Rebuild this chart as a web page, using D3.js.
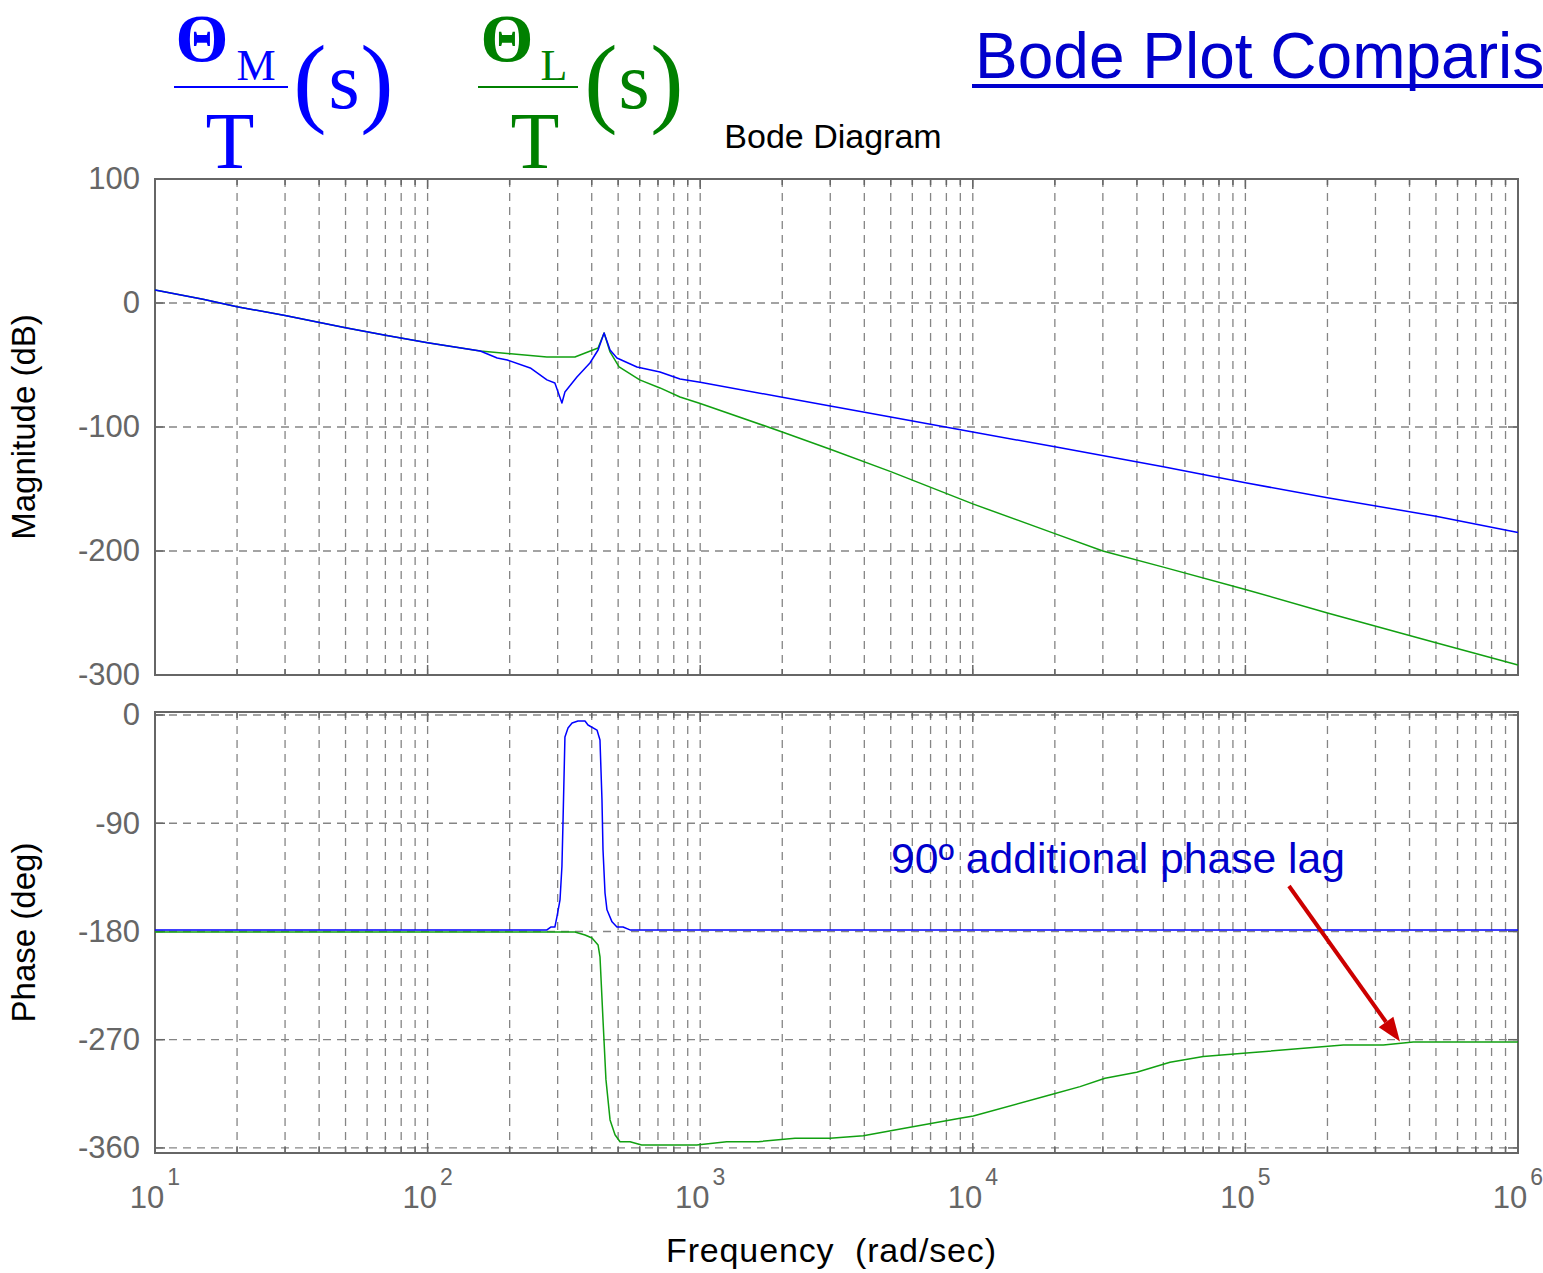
<!DOCTYPE html>
<html>
<head>
<meta charset="utf-8">
<script src="https://cdn.jsdelivr.net/npm/d3@7"></script>
<style>
  body { margin: 0; background: #fff; }
  svg { display: block; }
</style>
</head>
<body>
<svg id="chart" width="1543" height="1273"></svg>
<script>
// ---- data ----
// Theta_M / T  (blue)
const wMagM = [10, 15, 20, 30, 50, 70, 100, 156, 180, 196, 238, 274, 293, 311, 319, 353, 394, 422, 444, 467, 495, 586, 712, 843, 1000, 2000, 3000, 5000, 10000, 20000, 50000, 100000, 200000, 500000, 1000000];
const magM = [10.5, 3, -3, -10, -20, -26, -32, -38.7, -44.4, -46, -52.4, -62, -64.5, -80.6, -71.8, -59.7, -48.4, -37.9, -24.2, -37.9, -44.4, -51.6, -55.6, -61.3, -64, -76, -83, -92, -104, -116, -132, -145, -157, -172, -185];

// Theta_L / T  (green)
const wMagL = [10, 15, 20, 30, 50, 70, 100, 156, 274, 347, 422, 444, 467, 504, 600, 712, 843, 1000, 2000, 3000, 5000, 10000, 20000, 30000, 50000, 100000, 200000, 500000, 1000000];
const magL = [10.5, 3, -3, -10, -20, -26, -32, -38.7, -43.5, -43.5, -36.3, -24.2, -39.5, -51.6, -62, -68.5, -75.8, -81, -104, -118, -136, -162, -186, -200, -213, -231, -250, -274, -292];

const wPhM = [10, 274, 283, 293, 298, 306, 311, 313.8, 319, 327.4, 338.8, 356.2, 377.9, 387.6, 418.2, 428.9, 436.2, 440, 447.5, 455, 474.8, 495, 521, 552.6, 1000000];
const phM = [-178.7, -178.7, -176.3, -176.3, -168, -153.8, -126, -89.8, -18.3, -10.8, -6.7, -5, -5, -8.3, -12.5, -20.8, -70.7, -112, -148, -162, -172, -176.3, -176.3, -178.7, -178.7];

const wPhL = [10, 347, 378, 401, 422, 429, 440, 451, 467, 487, 508, 553, 610, 971, 1251, 1634, 2227, 2992, 3966, 5884, 8975, 10040, 19740, 24740, 30550, 39930, 52900, 70070, 98240, 228600, 320600, 413000, 1000000];
const phL = [-180.5, -180.5, -182.9, -185.4, -191.2, -201.2, -253.6, -303, -336.7, -349, -354.8, -354.8, -357.5, -357.5, -354.8, -354.8, -351.9, -351.9, -349.8, -342.8, -335.3, -333.4, -315.1, -309, -302, -297, -288.7, -284, -281.3, -274.4, -274.4, -271.9, -271.9];

const decadeExps = [1, 2, 3, 4, 5, 6];
const magTicks = [100, 0, -100, -200, -300];
const phaseTicks = [0, -90, -180, -270, -360];

// annotation (frequency, phase)
const noteText = '90º additional phase lag';
const noteAt = [5010, -131.4];
const arrowFrom = [144500, -142.2];
const arrowTo = [369000, -271.5];

// ---- setup ----
const svg = d3.select('#chart');
const sans = '"Liberation Sans", Arial, Helvetica, sans-serif';
const serif = '"Liberation Serif", "Times New Roman", serif';
const blue = '#0000ff';
const green = '#11a011';
const axisGray = '#666666';

svg.append('rect').attr('width', 1543).attr('height', 1273).attr('fill', '#fff');

const x = d3.scaleLog().domain([10, 1e6]).range([155, 1518]);
const yMag = d3.scaleLinear().domain([-300, 100]).range([675, 179]);
const yPh = d3.scaleLinear().domain([-364.2, 2.5]).range([1153, 712]);

const majors = decadeExps.map((e) => Math.pow(10, e));
const gridX = [];
decadeExps.slice(0, -1).forEach((e) => {
  for (let m = 1; m < 10; m++) gridX.push(m * Math.pow(10, e));
});
gridX.push(1e6);

function drawPanel(y, ticks) {
  const [y0, y1] = y.range();
  const top = Math.min(y0, y1);
  const bottom = Math.max(y0, y1);
  const g = svg.append('g');

  // dashed grid
  g.selectAll('line.vg')
    .data(gridX.filter((v) => v > 10 && v < 1e6))
    .enter()
    .append('line')
    .attr('x1', (d) => x(d)).attr('x2', (d) => x(d))
    .attr('y1', top).attr('y2', bottom)
    .attr('stroke', '#858585').attr('stroke-width', 1.3)
    .attr('stroke-dasharray', '8,6');

  g.selectAll('line.hg')
    .data(ticks)
    .enter()
    .append('line')
    .attr('x1', x(10)).attr('x2', x(1e6))
    .attr('y1', (d) => y(d)).attr('y2', (d) => y(d))
    .attr('stroke', '#858585').attr('stroke-width', 1.3)
    .attr('stroke-dasharray', '8,6');

  // inward ticks
  const tickLen = (d) => (majors.includes(d) ? 10 : 6);
  gridX.forEach((d) => {
    g.append('line').attr('x1', x(d)).attr('x2', x(d))
      .attr('y1', bottom).attr('y2', bottom - tickLen(d))
      .attr('stroke', axisGray).attr('stroke-width', 1.5);
    g.append('line').attr('x1', x(d)).attr('x2', x(d))
      .attr('y1', top).attr('y2', top + tickLen(d))
      .attr('stroke', axisGray).attr('stroke-width', 1.5);
  });
  ticks.forEach((d) => {
    g.append('line').attr('x1', x(10)).attr('x2', x(10) + 10)
      .attr('y1', y(d)).attr('y2', y(d))
      .attr('stroke', axisGray).attr('stroke-width', 1.5);
    g.append('line').attr('x1', x(1e6)).attr('x2', x(1e6) - 10)
      .attr('y1', y(d)).attr('y2', y(d))
      .attr('stroke', axisGray).attr('stroke-width', 1.5);
  });

  // box
  g.append('rect')
    .attr('x', x(10)).attr('y', top)
    .attr('width', x(1e6) - x(10)).attr('height', bottom - top)
    .attr('fill', 'none').attr('stroke', axisGray).attr('stroke-width', 2);

  // y tick labels
  const ax = svg.append('g')
    .attr('transform', `translate(${x(10)},0)`)
    .call(d3.axisLeft(y).tickValues(ticks).tickSize(0).tickPadding(15).tickFormat(d3.format('d')));
  ax.select('.domain').remove();
  ax.selectAll('text')
    .attr('font-family', sans).attr('font-size', 31).attr('fill', axisGray)
    .text((d) => (d < 0 ? '-' + Math.abs(d) : d));
  return g;
}

drawPanel(yMag, magTicks);
drawPanel(yPh, phaseTicks);

// x tick labels 10^n
const xl = svg.append('g').attr('transform', 'translate(0,1208)');
decadeExps.forEach((e) => {
  const t = xl.append('text')
    .attr('x', x(Math.pow(10, e)))
    .attr('text-anchor', 'middle')
    .attr('font-family', sans).attr('font-size', 31).attr('fill', axisGray);
  t.append('tspan').text('10');
  t.append('tspan').attr('dy', -23).attr('dx', 3).attr('font-size', 23).text(e);
});

// curves
function curve(ws, vs, y, color) {
  const pts = ws.map((w, i) => [w, vs[i]]);
  svg.append('path')
    .datum(pts)
    .attr('fill', 'none')
    .attr('stroke', color)
    .attr('stroke-width', 1.5)
    .attr('stroke-linejoin', 'round')
    .attr('d', d3.line().x((d) => x(d[0])).y((d) => y(d[1])));
}
curve(wMagL, magL, yMag, green);
curve(wMagM, magM, yMag, blue);
curve(wPhL, phL, yPh, green);
curve(wPhM, phM, yPh, blue);

// axis labels and titles
svg.append('text')
  .attr('x', 833).attr('y', 148)
  .attr('text-anchor', 'middle')
  .attr('font-family', sans).attr('font-size', 34).attr('fill', '#000')
  .text('Bode Diagram');

svg.append('text')
  .attr('x', 831).attr('y', 1262)
  .attr('text-anchor', 'middle')
  .attr('font-family', sans).attr('font-size', 34).attr('fill', '#000')
  .attr('xml:space', 'preserve')
  .attr('textLength', 330).attr('lengthAdjust', 'spacing')
  .text('Frequency  (rad/sec)');

svg.append('text')
  .attr('transform', `translate(35,${(179 + 675) / 2}) rotate(-90)`)
  .attr('text-anchor', 'middle')
  .attr('font-family', sans).attr('font-size', 33).attr('fill', '#000')
  .text('Magnitude (dB)');

svg.append('text')
  .attr('transform', `translate(35,${(712 + 1153) / 2}) rotate(-90)`)
  .attr('text-anchor', 'middle')
  .attr('font-family', sans).attr('font-size', 33).attr('fill', '#000')
  .text('Phase (deg)');

// big title, cut at the right edge like the slide
svg.append('text')
  .attr('x', 975).attr('y', 78)
  .attr('font-family', sans).attr('font-size', 64).attr('fill', '#0000cc')
  .text('Bode Plot Comparis');
svg.append('rect')
  .attr('x', 972).attr('y', 84).attr('width', 571).attr('height', 4)
  .attr('fill', '#0000cc');

// transfer function labels
function fraction(cx, sub, subX, color, lineX0, lineX1, parX) {
  const g = svg.append('g').attr('fill', color).attr('font-family', serif).attr('text-anchor', 'middle');
  g.append('text').attr('x', cx).attr('y', 61).attr('font-size', 68).attr('font-weight', 'bold').text('Θ');
  g.append('text').attr('x', subX).attr('y', 80).attr('font-size', 44).text(sub);
  g.append('rect').attr('x', lineX0).attr('y', 86).attr('width', lineX1 - lineX0).attr('height', 2);
  g.append('text').attr('x', cx + 28).attr('y', 168).attr('font-size', 80).text('T');
  g.append('text').attr('x', parX[0]).attr('y', 114).attr('font-size', 100).text('(');
  g.append('text').attr('x', parX[1]).attr('y', 108).attr('font-size', 80).text('s');
  g.append('text').attr('x', parX[2]).attr('y', 114).attr('font-size', 100).text(')');
}
fraction(202, 'M', 256, blue, 174, 288, [310, 344, 377]);
fraction(507, 'L', 554, '#008000', 478, 578, [601, 634, 667]);

// annotation
svg.append('text')
  .attr('x', x(noteAt[0])).attr('y', yPh(noteAt[1]))
  .attr('font-family', sans).attr('font-size', 42).attr('fill', '#0000cc')
  .attr('textLength', 454).attr('lengthAdjust', 'spacingAndGlyphs')
  .text(noteText);

const ax0 = x(arrowFrom[0]), ay0 = yPh(arrowFrom[1]);
const ax1 = x(arrowTo[0]), ay1 = yPh(arrowTo[1]);
const ang = Math.atan2(ay1 - ay0, ax1 - ax0);
const headLen = 24, headW = 9;
const bx = ax1 - headLen * Math.cos(ang), by = ay1 - headLen * Math.sin(ang);
svg.append('line')
  .attr('x1', ax0).attr('y1', ay0).attr('x2', bx).attr('y2', by)
  .attr('stroke', '#cc0000').attr('stroke-width', 4);
svg.append('path')
  .attr('d', d3.line()([
    [ax1, ay1],
    [bx + headW * Math.sin(ang), by - headW * Math.cos(ang)],
    [bx - headW * Math.sin(ang), by + headW * Math.cos(ang)],
  ]) + 'Z')
  .attr('fill', '#cc0000');
</script>
</body>
</html>
